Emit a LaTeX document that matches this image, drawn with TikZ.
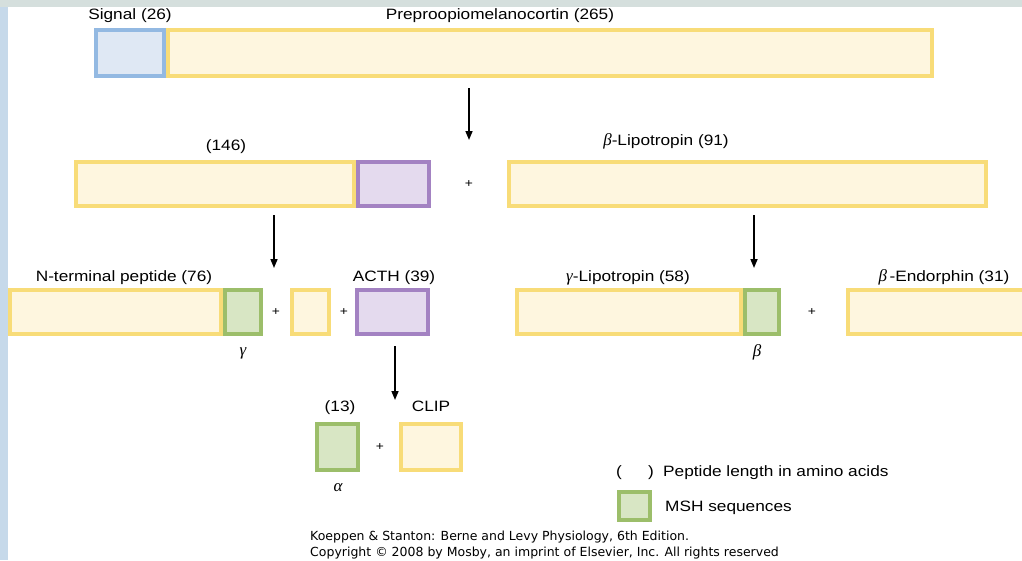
\documentclass[tikz,border=0pt]{standalone}
\usepackage{fontspec}
\setmainfont[FakeStretch=1.15]{Liberation Sans}
\newfontfamily\grkfont{Liberation Serif}
\newfontfamily\footfont{DejaVu Sans}
\usetikzlibrary{arrows.meta}
\definecolor{yfill}{HTML}{FEF6DF}
\definecolor{ydraw}{HTML}{F8DC78}
\definecolor{bfill}{HTML}{DFE8F4}
\definecolor{bdraw}{HTML}{93B9E2}
\definecolor{pfill}{HTML}{E4DAEE}
\definecolor{pdraw}{HTML}{A382C2}
\definecolor{gfill}{HTML}{D8E6C4}
\definecolor{gdraw}{HTML}{9CBE6A}
\definecolor{topband}{HTML}{D5DFDD}
\definecolor{leftband}{HTML}{C6D9EA}
\newcommand\grkl[1]{{\grkfont\itshape\fontsize{17}{18}\selectfont #1}}
\begin{document}
\begin{tikzpicture}[x=1pt,y=-1pt,
  pep/.style={line width=4pt, inner sep=0pt, outer sep=0pt, minimum height=44pt},
  ybox/.style={pep, draw=ydraw, fill=yfill},
  bbox/.style={pep, draw=bdraw, fill=bfill},
  pbox/.style={pep, draw=pdraw, fill=pfill},
  gbox/.style={pep, draw=gdraw, fill=gfill},
  lbl/.style={font=\fontsize{15}{18}\selectfont, inner sep=0pt, anchor=base},
  plus/.style={font=\fontsize{12}{13}\selectfont, inner sep=0pt},
  gk/.style={font=\grkfont\itshape\fontsize{17}{18}\selectfont, inner sep=0pt},
  arr/.style={-{Triangle[length=9pt,width=7pt]}, line width=1.6pt},
  foot/.style={font=\footfont\fontsize{12.5}{14}\selectfont, inner sep=0pt, anchor=base west}]
\useasboundingbox (0,0) rectangle (1022,560);
\fill[white] (0,0) rectangle (1022,560);
\fill[topband] (0,0) rectangle (1022,7);
\fill[leftband] (0,7) rectangle (8,560);

% Row 1
\node[ybox, minimum width=764pt, minimum height=46pt] (pomc) at (550,53) {};
\node[bbox, minimum width=68pt, minimum height=46pt] (signal) at (130,53) {};
\node[lbl] (tsig) at (130,19) {Signal (26)};
\node[lbl] (tpomc) at (500,19) {Preproopiomelanocortin (265)};

% Row 2
\node[ybox, minimum width=278pt] (p146) at (215,184) {};
\node[pbox, minimum width=71pt] (p146a) at (393.5,184) {};
\node[ybox, minimum width=477pt] (blip) at (747.5,184) {};
\node[lbl] (t146) at (226,150) {(146)};
\node[lbl] (tblip) at (666,145) {\grkl{β}-Lipotropin (91)};
\node[plus] (pl1) at (469,184) {+};

% Row 3
\node[ybox, minimum width=211pt] (nterm) at (115.5,312) {};
\node[gbox, minimum width=36pt] (gmsh) at (243,312) {};
\node[ybox, minimum width=37pt] (mid) at (310.5,312) {};
\node[pbox, minimum width=71pt] (acth) at (392.5,312) {};
\node[ybox, minimum width=224pt] (glip) at (629,312) {};
\node[gbox, minimum width=34pt] (bmsh) at (762,312) {};
\node[ybox, minimum width=200pt] (endo) at (948,312) {};
\node[lbl] (tnterm) at (124,281) {N-terminal peptide (76)};
\node[lbl] (tacth) at (394,281) {ACTH (39)};
\node[lbl] (tglip) at (628,281) {\grkl{γ}-Lipotropin (58)};
\node[lbl] (tendo) at (944,281) {\grkl{β}\,-Endorphin (31)};
\node[gk] (tgam) at (243,353) {γ};
\node[gk] (tbet) at (757,352) {β};
\node[plus] (pl2) at (276,312) {+};
\node[plus] (pl3) at (344,312) {+};
\node[plus] (pl4) at (812,312) {+};

% Row 4
\node[gbox, minimum width=41pt, minimum height=46pt] (amsh) at (337.5,447) {};
\node[ybox, minimum width=60pt, minimum height=46pt] (clip) at (431,447) {};
\node[lbl] (t13) at (340,411) {(13)};
\node[lbl] (tclip) at (431,411) {CLIP};
\node[gk] (talp) at (338,488) {α};
\node[plus] (pl5) at (380,447) {+};

% Arrows
\coordinate (a1s) at (469,88);  \coordinate (a1e) at (469,140);
\coordinate (a2s) at (274,215); \coordinate (a2e) at (274,268);
\coordinate (a3s) at (754,215); \coordinate (a3e) at (754,268);
\coordinate (a4s) at (395,346); \coordinate (a4e) at (395,400);
\draw[arr] (a1s) -- (a1e);
\draw[arr] (a2s) -- (a2e);
\draw[arr] (a3s) -- (a3e);
\draw[arr] (a4s) -- (a4e);

% Legend
\node[lbl, anchor=base west] (lgp1) at (616,476) {(};
\node[lbl, anchor=base west] (lgp2) at (648,476) {)};
\node[lbl, anchor=base west] (lgt1) at (663,476) {Peptide length in amino acids};
\node[gbox, minimum width=31pt, minimum height=28pt] (lgbox) at (634.5,506) {};
\node[lbl, anchor=base west] (lgt2) at (665,511) {MSH sequences};

% Footer
\node[foot] (f1) at (310,540) {Koeppen \& Stanton: Berne and Levy Physiology, 6th Edition.};
\node[foot] (f2) at (310,556) {Copyright © 2008 by Mosby, an imprint of Elsevier, Inc. All rights reserved};
\end{tikzpicture}
\end{document}
